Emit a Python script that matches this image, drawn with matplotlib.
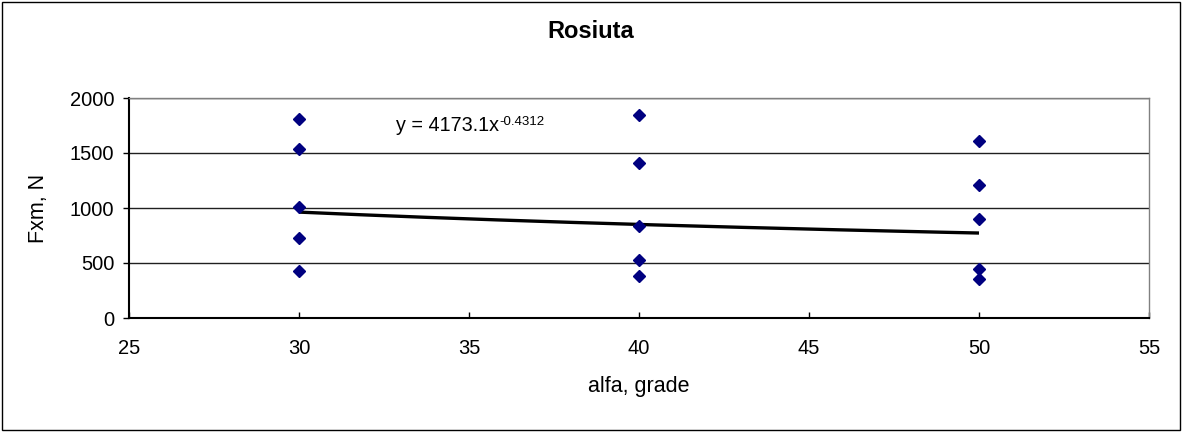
import matplotlib
matplotlib.use("Agg")
import matplotlib.pyplot as plt
import numpy as np
from matplotlib.patches import Rectangle

plt.rcParams['font.family'] = ['Liberation Sans', 'DejaVu Sans']

# Data
alfa_30 = [30, 30, 30, 30, 30]
fxm_30 = [1813, 1540, 1009, 731, 425]
alfa_40 = [40, 40, 40, 40, 40]
fxm_40 = [1849, 1409, 836, 531, 379]
alfa_50 = [50, 50, 50, 50, 50]
fxm_50 = [1609, 1206, 903, 449, 358]

trend_a = 4173.1
trend_b = -0.4312
trend_x_range = [30, 50]

title = "Rosiuta"
xlabel = "alfa, grade"
ylabel = "Fxm, N"
xticks = [25, 30, 35, 40, 45, 50, 55]
yticks = [0, 500, 1000, 1500, 2000]
equation_main = "y = 4173.1x"
equation_exp = "-0.4312"

W, H = 1182, 432
fig = plt.figure(figsize=(W / 100, H / 100), dpi=100)
ax = fig.add_axes([129 / W, 1 - 318 / H, (1149 - 129) / W, (318 - 98) / H])

x_all = alfa_30 + alfa_40 + alfa_50
y_all = fxm_30 + fxm_40 + fxm_50

# trend line
xt = np.linspace(trend_x_range[0], trend_x_range[1], 200)
yt = trend_a * xt ** trend_b
ax.plot(xt, yt, color='black', lw=2.4, zorder=3, solid_capstyle='butt')

ax.plot(x_all, y_all, linestyle='none', marker='D', markersize=6.5,
        color='#000080', markeredgecolor='#000080', zorder=4)

ax.set_xlim(25, 55)
ax.set_ylim(0, 2000)
ax.set_xticks(xticks)
ax.set_yticks(yticks)
ax.yaxis.grid(True, color='#202020', lw=1.0)
ax.set_axisbelow(True)

for s in ['top', 'right']:
    ax.spines[s].set_color('#808080')
    ax.spines[s].set_linewidth(1.0)
for s in ['left', 'bottom']:
    ax.spines[s].set_color('black')
    ax.spines[s].set_linewidth(1.5)

ax.tick_params(axis='y', direction='out', length=4.5, width=1.0, pad=6,
               labelsize=14.5, colors='black')
ax.tick_params(axis='x', direction='in', length=4.3, width=1.0, pad=15,
               labelsize=14.5, colors='black')
for t in ax.get_xticklines():
    t.set_color('#808080')

ax.set_xlabel(xlabel, fontsize=15.5)
ax.xaxis.set_label_coords(0.5, -0.265)
ax.set_ylabel(ylabel, fontsize=15.5)
ax.yaxis.set_label_coords(-0.078, 0.5)

t_main = ax.text(32.85, 1700, equation_main, fontsize=14.2, ha='left',
                 va='baseline')
ax.annotate(equation_exp, xy=(1, 0), xycoords=t_main, xytext=(0.5, 7.5),
            textcoords='offset points', fontsize=9.5, ha='left',
            va='baseline')

fig.text(0.5, 1 - 38 / H, title, fontsize=17, fontweight='bold',
         ha='center', va='baseline')

fig.patches.append(Rectangle((2 / W, 2 / H), 1 - 4 / W, 1 - 4 / H,
                             transform=fig.transFigure, fill=False,
                             edgecolor='black', lw=1.0))

fig.savefig('out.png', dpi=100)
